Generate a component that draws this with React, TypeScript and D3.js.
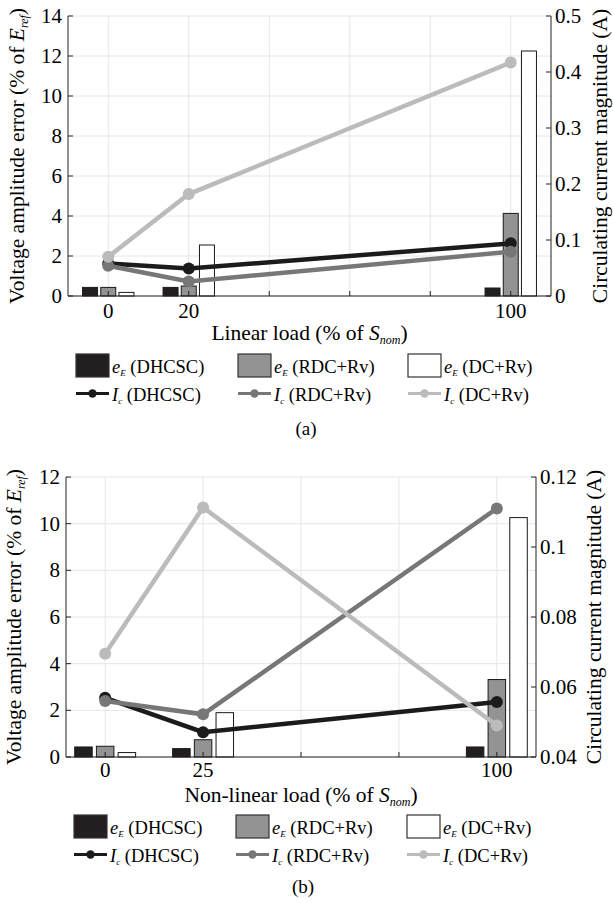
import React from "react";
import * as d3 from "d3";

// (a) linear load
const linLoad = [0, 20, 100];
const linTicks = [0, 20, 40, 60, 80, 100];
const linTickLabels = ["0", "20", "", "", "", "100"];
const linErrDHCSC = [0.43, 0.43, 0.4];
const linErrRDC = [0.43, 0.5, 4.13];
const linErrDC = [0.18, 2.55, 12.25];
const linIcDHCSC = [0.058, 0.049, 0.094];
const linIcRDC = [0.054, 0.026, 0.079];
const linIcDC = [0.07, 0.182, 0.417];
const linLeftTicks = [0, 2, 4, 6, 8, 10, 12, 14];
const linRightTicks = [0, 0.1, 0.2, 0.3, 0.4, 0.5];

// (b) non-linear load
const nlLoad = [0, 25, 100];
const nlTicks = [0, 25, 50, 75, 100];
const nlTickLabels = ["0", "25", "", "", "100"];
const nlErrDHCSC = [0.43, 0.36, 0.43];
const nlErrRDC = [0.46, 0.74, 3.32];
const nlErrDC = [0.19, 1.9, 10.26];
const nlIcDHCSC = [0.0569, 0.0471, 0.0557];
const nlIcRDC = [0.056, 0.0522, 0.111];
const nlIcDC = [0.0695, 0.1113, 0.049];
const nlLeftTicks = [0, 2, 4, 6, 8, 10, 12];
const nlRightTicks = [0.04, 0.06, 0.08, 0.1, 0.12];

const FONT = '"Liberation Serif"';
const tx = {fontFamily: FONT};
const barColors = ["#231f20", "#939393", "#ffffff"];
const lineColors = ["#1c1a1b", "#777777", "#bbbbbb"];
const methods = ["DHCSC", "RDC+Rv", "DC+Rv"];

function Panel(props) {
  let {box, load, xTicks, xLabels, errs, ics, leftTicks, rightTicks, rDomain,
    barW, barGap, xTitle, legendY, legendX, caption} = props;
  let {left, right, top, bottom} = box;

  let x = d3.scaleLinear().domain([-10, 110]).range([left, right]);
  let yL = d3.scaleLinear().domain([0, leftTicks[leftTicks.length - 1]]).range([bottom, top]);
  let yR = d3.scaleLinear().domain(rDomain).range([bottom, top]);
  let line = d3.line().x((d) => x(d[0])).y((d) => yR(d[1]));
  let fmt = (v) => (v === 0 ? "0" : d3.format("~g")(v));

  return (
    <g>
      {/* grid */}
      {xTicks.map((t) => (
        <line key={"gx" + t} x1={x(t)} x2={x(t)} y1={top} y2={bottom} stroke="#e6e6e6" />
      ))}
      {leftTicks.map((t) => (
        <line key={"gy" + t} x1={left} x2={right} y1={yL(t)} y2={yL(t)} stroke="#e6e6e6" />
      ))}
      {/* bars */}
      {errs.map((series, si) =>
        series.map((v, i) => (
          <rect key={"b" + si + i}
            x={x(load[i]) + (si - 1) * barGap - barW / 2}
            y={yL(v)} width={barW} height={bottom - yL(v)}
            fill={barColors[si]} stroke="#1a1a1a" strokeWidth={1} />
        ))
      )}
      {/* lines */}
      {ics.map((series, si) => (
        <g key={"l" + si}>
          <path d={line(series.map((v, i) => [load[i], v]))} fill="none"
            stroke={lineColors[si]} strokeWidth={4.5} />
          {series.map((v, i) => (
            <circle key={i} cx={x(load[i])} cy={yR(v)} r={6} fill={lineColors[si]} />
          ))}
        </g>
      ))}
      {/* axes */}
      <line x1={left} x2={left} y1={top} y2={bottom} stroke="#222" />
      <line x1={right} x2={right} y1={top} y2={bottom} stroke="#222" />
      <line x1={left} x2={right} y1={bottom} y2={bottom} stroke="#222" />
      {xTicks.map((t, i) => (
        <g key={"xt" + t}>
          <line x1={x(t)} x2={x(t)} y1={bottom} y2={bottom - 5} stroke="#222" />
          <text x={x(t)} y={bottom + props.tickDy} textAnchor="middle" fontSize={21} style={tx}>{xLabels[i]}</text>
        </g>
      ))}
      {leftTicks.map((t) => (
        <g key={"yl" + t}>
          <line x1={left} x2={left + 5} y1={yL(t)} y2={yL(t)} stroke="#222" />
          <text x={left - 6} y={yL(t)} dy="0.33em" textAnchor="end" fontSize={21} style={tx}>{t}</text>
        </g>
      ))}
      {rightTicks.map((t) => (
        <g key={"yr" + t}>
          <line x1={right} x2={right - 5} y1={yR(t)} y2={yR(t)} stroke="#222" />
          <text x={right + 4} y={yR(t)} dy="0.33em" textAnchor="start" fontSize={21} style={tx}>{fmt(t)}</text>
        </g>
      ))}
      {/* axis titles */}
      <text transform={`translate(${props.yLabelX},${(top + bottom) / 2}) rotate(-90)`}
        textAnchor="middle" fontSize={21.5} style={tx}>
        Voltage amplitude error (% of <tspan fontStyle="italic">E</tspan>
        <tspan fontStyle="italic" fontSize={12} dy={4}>ref</tspan>
        <tspan dy={-4}>)</tspan>
      </text>
      <text transform={`translate(${props.yRLabelX},${(top + bottom) / 2}) rotate(-90)`}
        textAnchor="middle" fontSize={21.5} style={tx}>
        Circulating current magnitude (A)
      </text>
      <text x={(left + right) / 2} y={props.xTitleY} textAnchor="middle" fontSize={21.5} style={tx}>
        {xTitle} (% of <tspan fontStyle="italic">S</tspan>
        <tspan fontStyle="italic" fontSize={12} dy={4}>nom</tspan>
        <tspan dy={-4}>)</tspan>
      </text>
      {/* legend */}
      {methods.map((m, i) => (
        <g key={"lg" + m} transform={`translate(${legendX[i]},${legendY})`}>
          <rect x={0} y={-11.5} width={33} height={23} fill={barColors[i]} stroke="#333" strokeWidth={1.2} />
          <text x={36} y={7} fontSize={18.5} style={tx}>
            <tspan fontStyle="italic">e</tspan>
            <tspan fontStyle="italic" fontSize={9} dy={3}>E</tspan>
            <tspan dy={-3}> ({m})</tspan>
          </text>
          <line x1={0} x2={33} y1={28} y2={28} stroke={lineColors[i]} strokeWidth={3} />
          <circle cx={16.5} cy={28} r={4.2} fill={lineColors[i]} />
          <text x={36} y={35} fontSize={18.5} style={tx}>
            <tspan fontStyle="italic">I</tspan>
            <tspan fontStyle="italic" fontSize={9} dy={3}>c</tspan>
            <tspan dy={-3}> ({m})</tspan>
          </text>
        </g>
      ))}
      <text x={caption[0]} y={caption[1]} textAnchor="middle" fontSize={19} style={tx}>{caption[2]}</text>
    </g>
  );
}

export default function App() {
  return (
    <svg width={613} height={903} style={{position: "absolute", left: 0, top: 0}}>
      <defs>
        <style>{`text, tspan { font-family: "Liberation Serif", serif; }`}</style>
      </defs>
      <rect width={613} height={903} fill="#fff" />
      <Panel
        box={{left: 68, right: 551, top: 16, bottom: 296}}
        load={linLoad} xTicks={linTicks} xLabels={linTickLabels}
        errs={[linErrDHCSC, linErrRDC, linErrDC]}
        ics={[linIcDHCSC, linIcRDC, linIcDC]}
        leftTicks={linLeftTicks} rightTicks={linRightTicks} rDomain={[0, 0.5]}
        barW={15} barGap={18.2} tickDy={22}
        xTitle="Linear load" xTitleY={340}
        yLabelX={24} yRLabelX={607}
        legendX={[76, 238, 408]} legendY={365.5}
        caption={[306, 435, "(a)"]}
      />
      <Panel
        box={{left: 66, right: 536, top: 477, bottom: 757}}
        load={nlLoad} xTicks={nlTicks} xLabels={nlTickLabels}
        errs={[nlErrDHCSC, nlErrRDC, nlErrDC]}
        ics={[nlIcDHCSC, nlIcRDC, nlIcDC]}
        leftTicks={nlLeftTicks} rightTicks={nlRightTicks} rDomain={[0.04, 0.12]}
        barW={17.5} barGap={21.7} tickDy={20}
        xTitle="Non-linear load" xTitleY={802}
        yLabelX={21} yRLabelX={601}
        legendX={[74, 236, 407]} legendY={826.5}
        caption={[303, 893, "(b)"]}
      />
    </svg>
  );
}
